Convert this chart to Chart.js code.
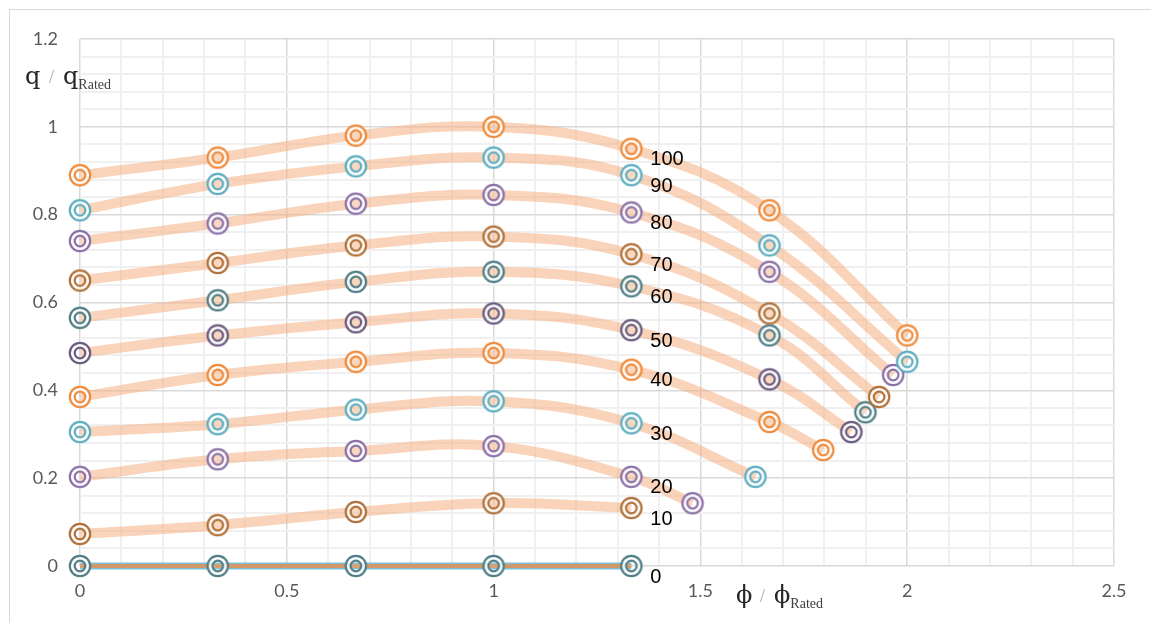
<!DOCTYPE html>
<html>
<head>
<meta charset="utf-8">
<script src="https://cdn.jsdelivr.net/npm/chart.js@4.4.1/dist/chart.umd.min.js"></script>
<style>
  html, body { margin: 0; padding: 0; background: #fff; }
  #wrap { position: relative; width: 1151px; height: 623px; }
</style>
</head>
<body>
<div id="wrap"><canvas id="chart" width="1151" height="623"></canvas></div>
<script>
// speed labels, one curve each
const speedLabels = ['100', '90', '80', '70', '60', '50', '40', '30', '20', '10', '0'];

// phi / phi_rated: shared part + per-curve tail
const phiCommon = [0, 0.333, 0.667, 1, 1.333];
const phiTail = [
    [1.667, 2.0], [1.667, 2.0], [1.667, 1.966], [1.667, 1.932], [1.667, 1.899],
    [1.667, 1.865], [1.667, 1.797], [1.633], [1.481], [], []
];

// q / q_rated per curve
const q100 = [0.89, 0.93, 0.98, 1.0, 0.95, 0.81, 0.525];
const q90 = [0.81, 0.87, 0.91, 0.93, 0.89, 0.73, 0.465];
const q80 = [0.74, 0.78, 0.825, 0.845, 0.805, 0.67, 0.435];
const q70 = [0.65, 0.69, 0.73, 0.75, 0.71, 0.575, 0.385];
const q60 = [0.565, 0.605, 0.647, 0.67, 0.637, 0.525, 0.35];
const q50 = [0.485, 0.525, 0.555, 0.575, 0.537, 0.425, 0.305];
const q40 = [0.385, 0.435, 0.465, 0.485, 0.447, 0.328, 0.264];
const q30 = [0.305, 0.323, 0.356, 0.375, 0.325, 0.203];
const q20 = [0.203, 0.243, 0.262, 0.273, 0.203, 0.143];
const q10 = [0.073, 0.093, 0.123, 0.143, 0.132];
const q0 = [0, 0, 0, 0, 0];
const qSeries = [q100, q90, q80, q70, q60, q50, q40, q30, q20, q10, q0];

const xTicksMajor = [0, 0.5, 1, 1.5, 2, 2.5];
const yTicksMajor = [0, 0.2, 0.4, 0.6, 0.8, 1, 1.2];

const palette = ['#EF8B3C', '#5EAEC0', '#8C71A8', '#B1723A', '#507F87', '#6A5B7E'];
const TICK_FONT = { family: 'Lato', size: 18 };

function makeMarker(color) {
    const c = document.createElement('canvas');
    c.width = 26; c.height = 26;
    const g = c.getContext('2d');
    g.fillStyle = 'rgba(255,255,255,0.9)';
    g.beginPath(); g.arc(13, 13, 10.5, 0, Math.PI * 2); g.fill();
    g.globalCompositeOperation = 'destination-out';
    g.beginPath(); g.arc(13, 13, 5.5, 0, Math.PI * 2); g.fill();
    g.globalCompositeOperation = 'source-over';
    g.strokeStyle = color;
    g.lineWidth = 2.2;
    g.beginPath(); g.arc(13, 13, 10.2, 0, Math.PI * 2); g.stroke();
    g.beginPath(); g.arc(13, 13, 5.3, 0, Math.PI * 2); g.stroke();
    return c;
}

function isMajor(v, step) {
    return Math.abs(v / step - Math.round(v / step)) < 1e-6;
}

const datasets = [];
speedLabels.forEach((name, i) => {
    const xs = phiCommon.concat(phiTail[i]);
    const points = qSeries[i].map((q, k) => ({ x: xs[k], y: q }));
    const color = palette[i % palette.length];
    const isZero = name === '0';
    if (isZero) {
        // thin teal trace under the brown one, as in the original
        datasets.push({
            label: name + ' under',
            data: points,
            borderColor: '#7EC0D6',
            borderWidth: 7,
            pointRadius: 0,
            showLine: true,
            clip: false,
            order: 3
        });
    }
    datasets.push({
        label: name + ' line',
        data: points,
        borderColor: isZero ? '#D39868' : 'rgba(244,177,131,0.55)',
        borderWidth: isZero ? 4 : 10,
        pointRadius: 0,
        tension: 0.4,
        showLine: true,
        clip: false,
        order: 2
    });
    datasets.push({
        label: name,
        data: points,
        showLine: false,
        pointStyle: makeMarker(color),
        pointRadius: 11,
        clip: false,
        order: 1
    });
});

const frame = {
    id: 'frame',
    beforeDraw(chart) {
        const ctx = chart.ctx;
        ctx.save();
        ctx.strokeStyle = '#d9d9d9';
        ctx.lineWidth = 1;
        ctx.strokeRect(9.5, 9.5, 1160, 640);
        ctx.restore();
    }
};

const annotations = {
    id: 'annotations',
    afterDatasetsDraw(chart) {
        const ctx = chart.ctx;
        const xs = chart.scales.x, ys = chart.scales.y;
        ctx.save();
        // curve labels
        ctx.fillStyle = '#000';
        ctx.font = '20px "Liberation Sans", Arial, sans-serif';
        ctx.textAlign = 'left';
        ctx.textBaseline = 'middle';
        speedLabels.forEach((name, i) => {
            const px = xs.getPixelForValue(phiCommon[4]);
            const py = ys.getPixelForValue(qSeries[i][4]);
            ctx.fillText(name, px + 19, py + 11);
        });
        // axis titles
        const drawTitle = (sym, x, y) => {
            ctx.textBaseline = 'alphabetic';
            ctx.fillStyle = '#262626';
            ctx.font = '24px "DejaVu Serif", serif';
            ctx.fillText(sym, x, y);
            ctx.fillStyle = '#a6a6a6';
            ctx.font = '18px "Liberation Serif", serif';
            ctx.fillText('/', x + 24, y - 1);
            ctx.fillStyle = '#262626';
            ctx.font = '24px "DejaVu Serif", serif';
            ctx.fillText(sym, x + 38, y);
            const w = ctx.measureText(sym).width;
            ctx.fillStyle = '#404040';
            ctx.font = '14px "Liberation Serif", serif';
            ctx.fillText('Rated', x + 38 + w, y + 5);
        };
        drawTitle('q', 25, 84);
        drawTitle('ϕ', 736, 603);
        ctx.restore();
    }
};

new Chart(document.getElementById('chart'), {
    type: 'scatter',
    data: { datasets },
    options: {
        responsive: false,
        animation: false,
        layout: { padding: { top: 39, right: 37, left: 0, bottom: 0 } },
        plugins: { legend: { display: false }, tooltip: { enabled: false } },
        scales: {
            x: {
                type: 'linear',
                min: 0,
                max: 2.5,
                afterFit: (axis) => { axis.height = 57; },
                border: { display: false },
                grid: {
                    drawTicks: false,
                    color: (c) => isMajor(c.tick.value, 0.5) ? '#d9d9d9' : '#f0f0f0',
                    lineWidth: (c) => isMajor(c.tick.value, 0.5) ? 1.5 : 2
                },
                ticks: {
                    stepSize: 0.1,
                    autoSkip: false,
                    maxRotation: 0,
                    padding: 14,
                    color: '#595959',
                    font: TICK_FONT,
                    callback: (v) => {
                        const m = xTicksMajor.find((t) => Math.abs(t - v) < 1e-6);
                        return m === undefined ? '' : String(m);
                    }
                }
            },
            y: {
                type: 'linear',
                min: 0,
                max: 1.2,
                afterFit: (axis) => { axis.width = 80; },
                border: { display: false },
                grid: {
                    drawTicks: false,
                    color: (c) => isMajor(c.tick.value, 0.2) ? '#d9d9d9' : '#f0f0f0',
                    lineWidth: (c) => isMajor(c.tick.value, 0.2) ? 1.5 : 2
                },
                ticks: {
                    stepSize: 0.04,
                    autoSkip: false,
                    padding: 22,
                    color: '#595959',
                    font: TICK_FONT,
                    callback: (v) => {
                        const m = yTicksMajor.find((t) => Math.abs(t - v) < 1e-6);
                        return m === undefined ? '' : String(m);
                    }
                }
            }
        }
    },
    plugins: [frame, annotations]
});
</script>
</body>
</html>
